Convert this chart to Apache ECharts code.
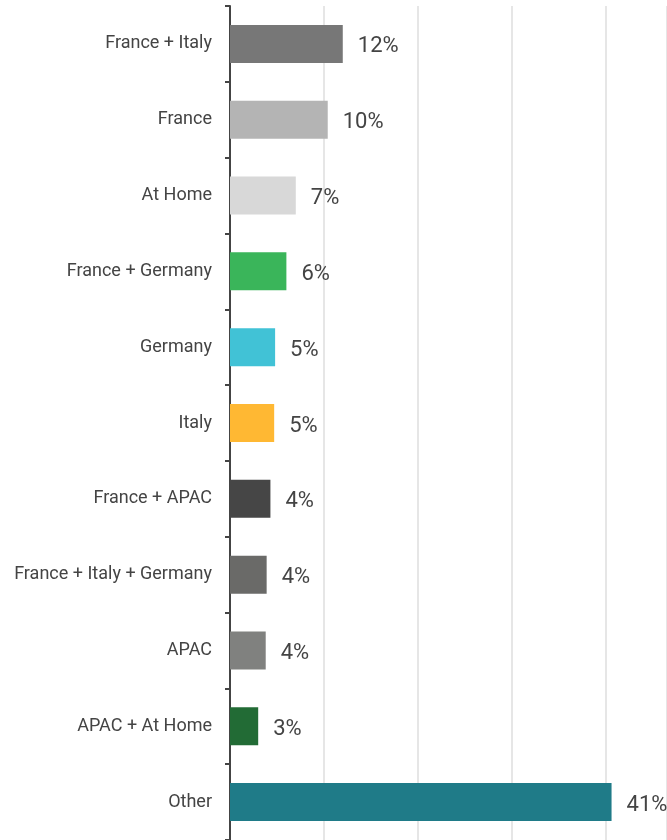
<!DOCTYPE html>
<html>
<head>
<meta charset="utf-8">
<script src="https://cdn.jsdelivr.net/npm/echarts@6/dist/echarts.min.js"></script>
<style>
  html, body { margin: 0; padding: 0; background: #fff; }
  #main { width: 667px; height: 840px; }
</style>
</head>
<body>
<div id="main"></div>
<script>
var categories = ["France + Italy", "France", "At Home", "France + Germany", "Germany", "Italy",
    "France + APAC", "France + Italy + Germany", "APAC", "APAC + At Home", "Other"];
var shares = [12.0, 10.4, 7.0, 6.0, 4.8, 4.7, 4.3, 3.9, 3.8, 3.0, 40.6];
var barColors = ["#777777", "#b4b4b4", "#d8d8d8", "#3ab55a", "#41c2d6", "#ffb833",
    "#464646", "#6a6a68", "#80817f", "#226b35", "#1f7b88"];

var myChart = echarts.init(document.getElementById("main"));

var seriesData = [];
for (var i = 0; i < shares.length; i++) {
    seriesData.push({
        value: shares[i],
        itemStyle: { color: barColors[i] }
    });
}

// 0 at x=230, 10% every 94px, grid runs to the right edge
var option = {
    animation: false,
    grid: {
        left: 230,
        top: 6,
        right: 0,
        bottom: -2
    },
    xAxis: {
        type: 'value',
        min: 0,
        max: 46.5,
        interval: 10,
        axisLine: { show: false },
        axisTick: { show: false },
        axisLabel: { show: false },
        splitLine: {
            show: true,
            lineStyle: { color: '#e6e6e6', width: 2 }
        }
    },
    yAxis: {
        type: 'category',
        inverse: true,
        data: categories,
        axisLine: {
            show: true,
            lineStyle: { color: '#444444', width: 2 }
        },
        axisTick: {
            show: true,
            length: 5,
            lineStyle: { color: '#444444', width: 2 }
        },
        axisLabel: {
            margin: 18,
            color: '#444444',
            fontFamily: 'Roboto',
            fontSize: 18,
            padding: [4, 0, 0, 0]
        }
    },
    series: [
        {
            type: 'bar',
            barWidth: 38,
            data: seriesData,
            label: {
                show: true,
                position: 'right',
                distance: 15,
                offset: [0, 3],
                color: '#444444',
                fontFamily: 'Roboto',
                fontSize: 22,
                formatter: function (p) {
                    return Math.round(p.value) + '%';
                }
            }
        }
    ]
};
myChart.setOption(option);
</script>
</body>
</html>
